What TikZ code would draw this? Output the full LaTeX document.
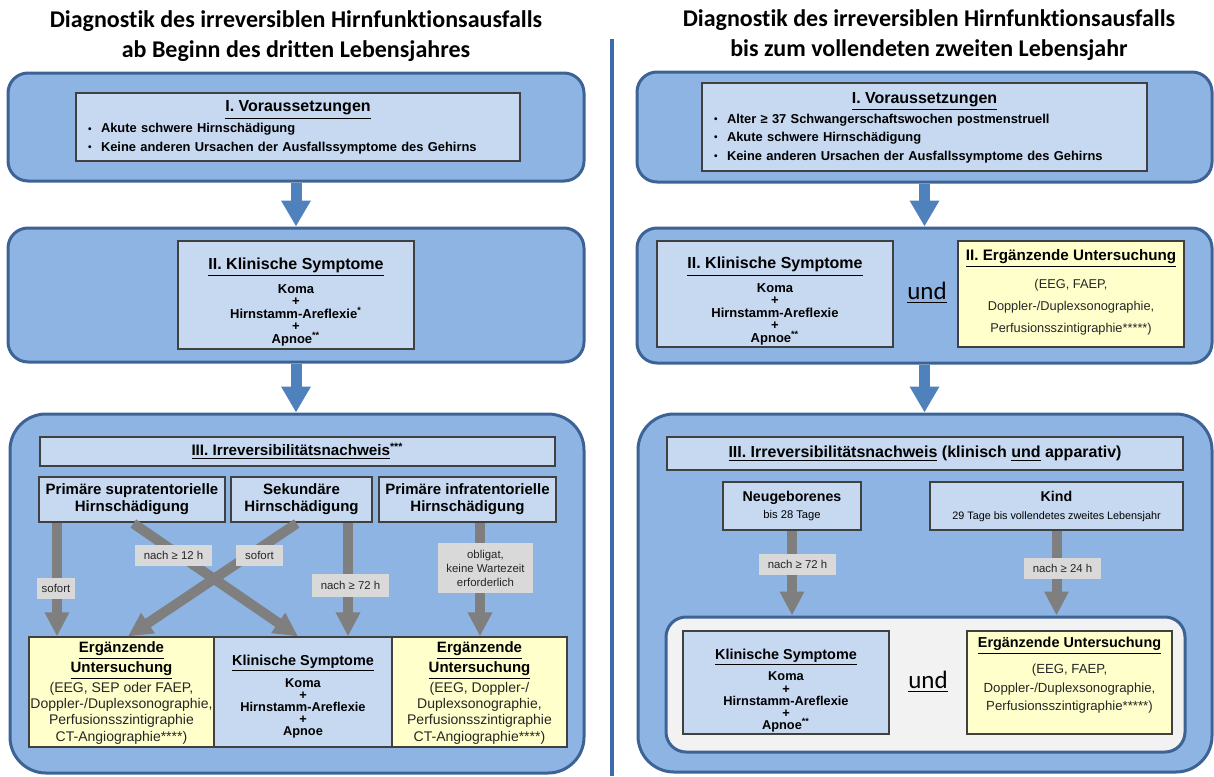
\documentclass[tikz,border=0pt]{standalone}
\usepackage{fontspec}
\setmainfont{Liberation Sans}
\newfontfamily\calibri{Carlito}[Ligatures=NoCommon]
\usetikzlibrary{arrows.meta}
\newcommand{\fs}[2]{\fontsize{#1}{#2}\selectfont}
\newcommand{\bull}{\makebox[6.5pt][l]{\raisebox{0.3pt}{\fs{5}{5}\textbullet}}}
\newcommand{\hdr}[2]{{\color{black}\bfseries\fontsize{#1}{#1}\selectfont\underline{#2}}}
\definecolor{panblue}{HTML}{8EB4E3}
\definecolor{panline}{HTML}{3D6396}
\definecolor{boxblue}{HTML}{C6D9F1}
\definecolor{boxline}{HTML}{404040}
\definecolor{boxyellow}{HTML}{FFFFCC}
\definecolor{taggrey}{HTML}{D9D9D9}
\definecolor{arrgrey}{HTML}{7F7F7F}
\definecolor{arrblue}{HTML}{4F81BD}
\definecolor{sepblue}{HTML}{3F6BAE}
\definecolor{lightpanel}{HTML}{F2F2F2}
\definecolor{regtext}{HTML}{262626}
\tikzstyle{panel} = [draw=panline, line width=1.5pt, fill=panblue, rounded corners=10pt, inner sep=0pt]
\tikzstyle{bigpanel} = [panel, rounded corners=18pt]
\tikzstyle{bluebox} = [draw=boxline, line width=0.6pt, fill=boxblue, inner sep=0pt]
\tikzstyle{yellowbox} = [bluebox, fill=boxyellow]
\tikzstyle{rowbox} = [bluebox, minimum height=22.5pt, align=center, font=\bfseries\fs{7.5}{8.5}]
\tikzstyle{txt} = [align=center, inner sep=0pt]
\tikzstyle{tag} = [fill=taggrey, inner sep=0pt, align=center, text=regtext, font=\fs{5.7}{7}]
\tikzstyle{heading} = [align=center, inner sep=0pt, font=\calibri\bfseries\fs{12}{15}]
\tikzstyle{und} = [inner sep=0pt, font=\calibri\fs{12.5}{14}]
\tikzstyle{bluearrow} = [draw=arrblue, line width=5.5pt, -{Triangle[width=14pt,length=13pt]}]
\tikzstyle{greyarrow} = [draw=arrgrey, line width=5pt, -{Triangle[width=11.5pt,length=12pt]}]

\begin{document}
\begin{tikzpicture}[x=0.5pt, y=-0.5pt]
\useasboundingbox (0,0) rectangle (1214,776);

% Titles and divider
\node[heading] (titleL) at (296,36) {Diagnostik des irreversiblen Hirnfunktionsausfalls\\ab Beginn des dritten Lebensjahres};
\node[heading] (titleR) at (929,35) {Diagnostik des irreversiblen Hirnfunktionsausfalls\\bis zum vollendeten zweiten Lebensjahr};
\draw[sepblue, line width=2pt] (612,39) -- (612,776);

% Left: I. Voraussetzungen
\node[panel, minimum width=288pt, minimum height=54pt] (panL1) at (296,127) {};
\node[bluebox, minimum width=222pt, minimum height=34pt] (vorL) at (298,127) {};
\node[txt, text width=210pt, align=left, font=\bfseries\fs{6.45}{9.25}] (vorLtxt) at (298,127.5)
  {{\centering\fs{8}{10}\underline{I. Voraussetzungen}\par}\vspace{1.2pt}
   \bull Akute schwere Hirnschädigung\\
   \bull Keine anderen Ursachen der Ausfallssymptome des Gehirns};

% Left: II. Klinische Symptome
\node[panel, minimum width=288pt, minimum height=67pt] (panL2) at (296,295) {};
\node[bluebox, minimum width=118pt, minimum height=54pt] (kliL) at (296,295) {};
\node[txt, font=\bfseries\fs{6.5}{6.25}] (kliLtxt) at (296,302)
  {\hdr{8}{II. Klinische Symptome}\\[2.7pt]Koma\\+\\Hirnstamm-Areflexie\textsuperscript{*}\\+\\Apnoe\textsuperscript{**}};

% Left: III. Irreversibilitaetsnachweis
\node[bigpanel, minimum width=287pt, minimum height=179.5pt] (panL3) at (297,593.5) {};
\node[bluebox, minimum width=257.5pt, minimum height=14.5pt, font=\bfseries\fs{7.6}{9}] (irrL) at (297.5,451.5)
  {\underline{III. Irreversibilitätsnachweis}\textsuperscript{***}};
\node[rowbox, minimum width=93pt] (supraL) at (132,499.5) {Primäre supratentorielle\\Hirnschädigung};
\node[rowbox, minimum width=70.5pt] (sekL) at (301.5,499.5) {Sekundäre\\Hirnschädigung};
\node[rowbox, minimum width=88.5pt] (infraL) at (467.5,499.5) {Primäre infratentorielle\\Hirnschädigung};

\node[yellowbox, minimum width=92.5pt, minimum height=55pt] (ergL) at (121.5,692) {};
\node[bluebox, minimum width=89pt, minimum height=55pt] (kliM) at (303,692) {};
\node[yellowbox, minimum width=87.5pt, minimum height=55pt] (ergR) at (479.5,692) {};
\node[txt, font=\fs{7}{8.2}, text=regtext] (ergLtxt) at (121.5,693)
  {\hdr{7.5}{Ergänzende}\\\hdr{7.5}{Untersuchung}\\(EEG, SEP oder FAEP,\\Doppler-/Duplexsonographie,\\Perfusionsszintigraphie\\CT-Angiographie****)};
\node[txt, font=\bfseries\fs{6.4}{6}] (kliMtxt) at (303,696.5)
  {\hdr{7.2}{Klinische Symptome}\\[2.5pt]Koma\\+\\Hirnstamm-Areflexie\\+\\Apnoe};
\node[txt, font=\fs{7}{8.2}, text=regtext] (ergRtxt) at (479.5,693)
  {\hdr{7.5}{Ergänzende}\\\hdr{7.5}{Untersuchung}\\(EEG, Doppler-/\\Duplexsonographie,\\Perfusionsszintigraphie\\CT-Angiographie****)};

% Left arrows
\draw[bluearrow] (panL1.south) -- (panL2.north);
\draw[bluearrow] (panL2.south) -- (panL3.north -| panL2.south);
\draw[greyarrow] (supraL.south -| 57,0) -- (ergL.north -| 57,0);
\draw[greyarrow, shorten <=0.8pt] (supraL.south) -- (kliM.north -| 298,0);
\draw[greyarrow, shorten <=0.8pt] (sekL.south -| 298,0) -- (ergL.north -| 128,0);
\draw[greyarrow] (sekL.south -| 348,0) -- (kliM.north -| 348,0);
\draw[greyarrow] (infraL.south -| 480,0) -- (ergR.north -| 480,0);
\node[tag, minimum width=19pt, minimum height=10.5pt] (tagA) at (56,588.5) {sofort};
\node[tag, minimum width=38.5pt, minimum height=10.5pt] (tagB) at (173.5,555.5) {nach ≥ 12 h};
\node[tag, minimum width=23.5pt, minimum height=10.5pt] (tagC) at (259.5,555.5) {sofort};
\node[tag, minimum width=38.5pt, minimum height=11.5pt] (tagD) at (350.5,585.5) {nach ≥ 72 h};
\node[tag, minimum width=47.5pt, minimum height=25pt] (tagE) at (485.5,568) {obligat,\\keine Wartezeit\\erforderlich};

% Right: I. Voraussetzungen
\node[panel, minimum width=287.5pt, minimum height=55pt] (panR1) at (924.5,127) {};
\node[bluebox, minimum width=222.5pt, minimum height=44pt] (vorR) at (924.5,127) {};
\node[txt, text width=210.5pt, align=left, font=\bfseries\fs{6.45}{9.25}] (vorRtxt) at (924.5,127.5)
  {{\centering\fs{8}{10}\underline{I. Voraussetzungen}\par}\vspace{0.6pt}
   \bull Alter ≥ 37 Schwangerschaftswochen postmenstruell\\
   \bull Akute schwere Hirnschädigung\\
   \bull Keine anderen Ursachen der Ausfallssymptome des Gehirns};

% Right: II. Klinische Symptome und Ergaenzende Untersuchung
\node[panel, minimum width=287.5pt, minimum height=67.5pt] (panR2) at (924.5,295.5) {};
\node[bluebox, minimum width=118pt, minimum height=53pt] (kliR) at (775,294) {};
\node[txt, font=\bfseries\fs{6.5}{6.2}] (kliRtxt) at (775,301)
  {\hdr{8}{II. Klinische Symptome}\\[2.7pt]Koma\\+\\Hirnstamm-Areflexie\\+\\Apnoe\textsuperscript{**}};
\node[und] (undT) at (927,293) {\underline{und}};
\node[yellowbox, minimum width=113pt, minimum height=53pt] (ergT) at (1071,294) {};
\node[txt, font=\fs{6.4}{11}, text=regtext] (ergTtxt) at (1071,292)
  {\hdr{7.6}{II. Ergänzende Untersuchung}\\[3pt](EEG, FAEP,\\Doppler-/Duplexsonographie,\\Perfusionsszintigraphie*****)};

% Right: III. Irreversibilitaetsnachweis
\node[bigpanel, minimum width=287pt, minimum height=179pt] (panR3) at (925,593) {};
\node[bluebox, minimum width=258pt, minimum height=16.5pt, font=\bfseries\fs{8}{9}] (irrR) at (925,453.5)
  {\underline{III. Irreversibilitätsnachweis} (klinisch \underline{und} apparativ)};
\node[bluebox, minimum width=69pt, minimum height=24pt, align=center, font=\fs{5.6}{8.5}] (neuR) at (792,506)
  {\textbf{\fs{7.1}{8.5}Neugeborenes}\\bis 28 Tage};
\node[bluebox, minimum width=126.5pt, minimum height=24pt, align=center, font=\fs{5.4}{9}] (kindR) at (1056.5,506)
  {\textbf{\fs{7.1}{9}Kind}\\29 Tage bis vollendetes zweites Lebensjahr};
\node[panel, fill=lightpanel, minimum width=259.5pt, minimum height=67.5pt] (innerR) at (925.5,684.5) {};
\node[bluebox, minimum width=103pt, minimum height=51.5pt] (kliB) at (786,682.5) {};
\node[txt, font=\bfseries\fs{6.4}{6.1}] (kliBtxt) at (786,690.5)
  {\hdr{7.2}{Klinische Symptome}\\[2pt]Koma\\+\\Hirnstamm-Areflexie\\+\\Apnoe\textsuperscript{**}};
\node[und] (undB) at (928,682) {\underline{und}};
\node[yellowbox, minimum width=102.5pt, minimum height=51.5pt] (ergB) at (1069.5,682.5) {};
\node[txt, font=\fs{6.6}{9.25}, text=regtext] (ergBtxt) at (1069.5,675.5)
  {\hdr{7.2}{Ergänzende Untersuchung}\\[3.75pt](EEG, FAEP,\\Doppler-/Duplexsonographie,\\Perfusionsszintigraphie*****)};

% Right arrows
\draw[bluearrow] (panR1.south) -- (panR2.north);
\draw[bluearrow] (panR2.south) -- (panR3.north -| panR2.south);
\draw[greyarrow] (neuR.south) -- (neuR.south |- innerR.north);
\draw[greyarrow] (kindR.south) -- (kindR.south |- innerR.north);
\node[tag, minimum width=38.5pt, minimum height=10.5pt] (tagF) at (797.5,564.5) {nach ≥ 72 h};
\node[tag, minimum width=38.5pt, minimum height=10.5pt] (tagG) at (1062.5,568.5) {nach ≥ 24 h};

\end{tikzpicture}
\end{document}
